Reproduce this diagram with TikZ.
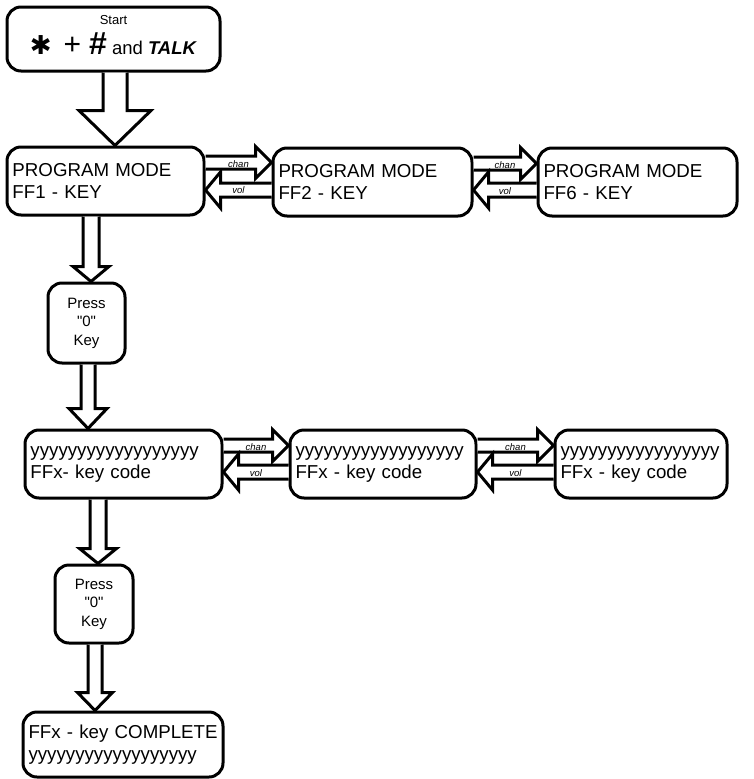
\documentclass[tikz,border=0pt]{standalone}
\usepackage{fontspec}
\setmainfont{Liberation Sans}
\newfontfamily\keyfont{Liberation Sans}
\newfontfamily\symfont{DejaVu Sans}
\usetikzlibrary{calc}

\tikzset{
  box/.style={draw, line width=3pt, rounded corners=14pt, anchor=north west, align=left, inner xsep=5.5pt, inner ysep=0pt, font=\fontsize{18.7}{22}\selectfont},
  keybox/.style={draw, line width=3pt, rounded corners=14pt, anchor=north west, align=center, inner sep=0pt, font=\keyfont\fontsize{15}{18.5}\selectfont},
  blockline/.style={draw, line width=3pt, fill=white, line join=miter},
  arrowlabel/.style={inner sep=0pt, font=\fontsize{9.5}{9.5}\selectfont\itshape},
}

% hollow arrow pointing down: from, to, x centre, shaft half, head half, head length
\newcommand{\vblock}[6]{%
  \draw[blockline] let \p1=(#1.south), \p2=(#2.north) in
    (#3pt-#4pt,\y1) -- (#3pt-#4pt,\y2+#6pt) -- (#3pt-#5pt,\y2+#6pt) -- (#3pt,\y2)
    -- (#3pt+#5pt,\y2+#6pt) -- (#3pt+#4pt,\y2+#6pt) -- (#3pt+#4pt,\y1);
}
% hollow arrow sideways: tail anchor, tip anchor, y offset, shaft half, head half, head length
\newcommand{\hblock}[6]{%
  \draw[blockline] let \p1=(#1), \p2=(#2), \n1={(\x2-\x1)/abs(\x2-\x1)} in
    (\x1,{\y1+(#3pt)+#4pt}) -- ({\x2-\n1*#6pt},{\y1+(#3pt)+#4pt}) -- ({\x2-\n1*#6pt},{\y1+(#3pt)+#5pt}) -- (\x2,{\y1+(#3pt)})
    -- ({\x2-\n1*#6pt},{\y1+(#3pt)-#5pt}) -- ({\x2-\n1*#6pt},{\y1+(#3pt)-#4pt}) -- (\x1,{\y1+(#3pt)-#4pt});
}
% chan / vol pair between two boxes
\newcommand{\chanvol}[2]{%
  \hblock{#1.east}{#2.west}{18.5}{6.5}{16}{16}
  \hblock{#2.west}{#1.east}{-8}{7}{18}{15}
  \path let \p1=(#1.east), \p2=(#2.west) in
    node (#1-chan) [arrowlabel] at ({(\x1+\x2)/2},\y1+17pt) {chan}
    node (#1-vol) [arrowlabel] at ({(\x1+\x2)/2},\y1-9.5pt) {vol};
}

\begin{document}
\begin{tikzpicture}[x=1pt, y=-1pt]
\useasboundingbox (0,0) rectangle (754,779);

\node (start) [box, align=center, minimum width=213pt, minimum height=64pt] at (5.5,5.5)
  {{\fontsize{13}{13}\selectfont Start}\\[8pt]
   {\symfont\fontsize{26}{26}\selectfont ✱}\hspace{12pt}{\fontsize{30}{30}\selectfont +\hspace{8pt}{\fontsize{32}{32}\selectfont\textbf{\#}}}\hspace{5pt}{\fontsize{18.5}{18.5}\selectfont and \textbf{\textit{TALK}}}\rule[-8pt]{0pt}{8pt}};

\node (ff1) [box, text width=186pt, minimum width=197pt, minimum height=68pt] at (5.5,145.5) {PROGRAM MODE\\FF1 - KEY};
\node (ff2) [box, text width=188pt, minimum width=199pt, minimum height=68pt] at (271.5,146.5) {PROGRAM MODE\\FF2 - KEY};
\node (ff6) [box, text width=188pt, minimum width=199pt, minimum height=68pt] at (536.5,146.5) {PROGRAM MODE\\FF6 - KEY};

\node (press1) [keybox, minimum width=77pt, minimum height=80pt] at (46.5,281.5) {Press\\"0"\\Key};

\node (code1) [box, text width=186pt, minimum width=197pt, minimum height=68pt] at (23.5,428.5) {yyyyyyyyyyyyyyyyyy\\FFx- key code};
\node (code2) [box, text width=175pt, minimum width=186pt, minimum height=68pt] at (288.5,428.5) {yyyyyyyyyyyyyyyyyy\\FFx - key code};
\node (code3) [box, text width=161pt, minimum width=172pt, minimum height=68pt] at (553.5,428.5) {yyyyyyyyyyyyyyyyy\\FFx - key code};

\node (press2) [keybox, minimum width=78pt, minimum height=78pt] at (53.5,563.5) {Press\\"0"\\Key};

\node (done) [box, text width=189pt, minimum width=200pt, minimum height=65pt] at (21.5,710.5) {\mbox{FFx - key COMPLETE}\\yyyyyyyyyyyyyyyyyy};

% down the left side
\vblock{start}{ff1}{115}{12}{36}{35}
\vblock{ff1}{press1}{91}{8}{18}{15}
\vblock{press1}{code1}{88}{7}{19}{20}
\vblock{code1}{press2}{98}{8}{18.5}{15}
\vblock{press2}{done}{95}{7}{17.5}{18}

% across
\chanvol{ff1}{ff2}
\chanvol{ff2}{ff6}
\chanvol{code1}{code2}
\chanvol{code2}{code3}
\end{tikzpicture}
\end{document}
